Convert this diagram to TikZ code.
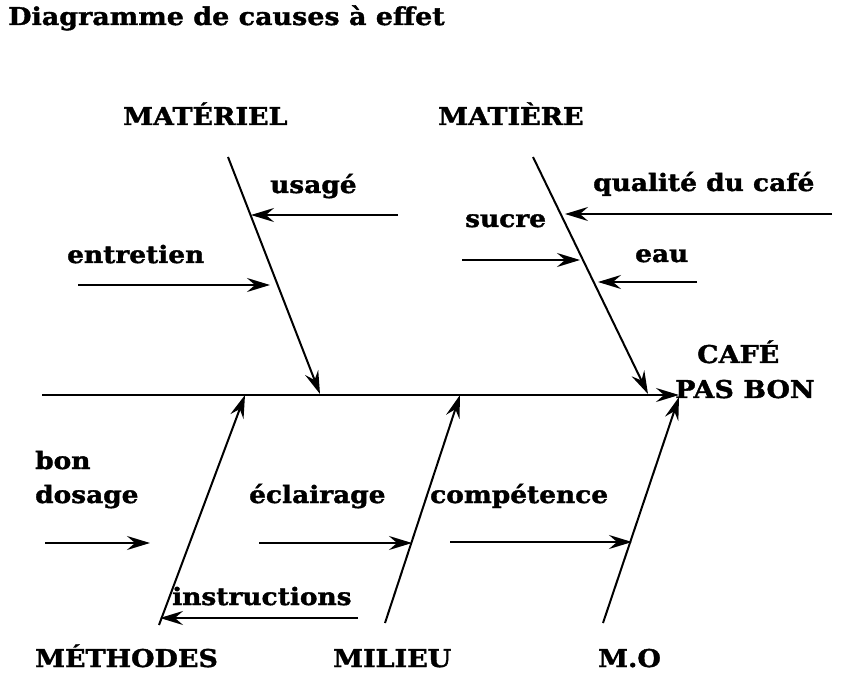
\documentclass[tikz,border=0pt]{standalone}
\usepackage{fontspec}
\setmainfont{DejaVu Serif}[FakeStretch=1.1, BoldFeatures={FakeBold=1.5}]
\usetikzlibrary{arrows.meta}
\tikzset{
  lbl/.style={anchor=base west, inner sep=0pt, font=\bfseries\fontsize{24}{28}\selectfont},
  head/.style={anchor=base west, inner sep=0pt, font=\bfseries\fontsize{24.5}{28}\selectfont},
  bone/.style={line width=2pt, -{Stealth[length=23pt,width=14pt,inset=8pt]}},
  twig/.style={line width=2pt, -{Stealth[length=23pt,width=14pt,inset=8pt]}},
}
\begin{document}
\begin{tikzpicture}[x=1pt,y=-1pt]
\useasboundingbox[fill=white] (0,0) rectangle (846,692);
% title
\node[anchor=base west, inner sep=0pt, font=\bfseries\fontsize{24.5}{28}\selectfont] (title) at (8,25) {Diagramme de causes à effet};
% heads
\node[head] (materiel) at (123,125) {MATÉRIEL};
\node[head] (matiere) at (438,125) {MATIÈRE};
\node[head] (methodes) at (35,667) {MÉTHODES};
\node[head] (milieu) at (333,667) {MILIEU};
\node[head] (mo) at (598,667) {M.O};
\node[head] (cafe) at (697,363) {CAFÉ};
\node[head] (pasbon) at (675,398) {PAS BON};
% cause labels
\node[lbl] (usage) at (270,193) {usagé};
\node[lbl] (entretien) at (67,263) {entretien};
\node[lbl] (qualite) at (593,191) {qualité du café};
\node[lbl] (sucre) at (465,227) {sucre};
\node[lbl] (eau) at (635,262) {eau};
\node[lbl] (bon) at (35,469) {bon};
\node[lbl] (dosage) at (35,503) {dosage};
\node[lbl] (eclairage) at (249,503) {éclairage};
\node[lbl] (competence) at (430,503) {compétence};
\node[lbl] (instructions) at (172,605) {instructions};
% coordinates
\coordinate (spS) at (42,395);
\coordinate (spE) at (679,395);
\coordinate (b1s) at (228,157); \coordinate (b1e) at (320,394);
\coordinate (b2s) at (533,157); \coordinate (b2e) at (648,394);
\coordinate (b3s) at (159,625); \coordinate (b3e) at (245,395);
\coordinate (b4s) at (385,623); \coordinate (b4e) at (460,395);
\coordinate (b5s) at (603,623); \coordinate (b5e) at (679,397);
\coordinate (t1s) at (398,215); \coordinate (t1e) at (251,215);
\coordinate (t2s) at (78,285);  \coordinate (t2e) at (270,285);
\coordinate (t3s) at (832,214); \coordinate (t3e) at (565,214);
\coordinate (t4s) at (462,260); \coordinate (t4e) at (580,260);
\coordinate (t5s) at (697,282); \coordinate (t5e) at (598,282);
\coordinate (t6s) at (45,543);  \coordinate (t6e) at (150,543);
\coordinate (t7s) at (259,543); \coordinate (t7e) at (412,543);
\coordinate (t8s) at (450,542); \coordinate (t8e) at (632,542);
\coordinate (t9s) at (358,618); \coordinate (t9e) at (160,618);
% spine and bones
\draw[bone] (spS) -- (spE);
\draw[bone] (b1s) -- (b1e);
\draw[bone] (b2s) -- (b2e);
\draw[bone] (b3s) -- (b3e);
\draw[bone] (b4s) -- (b4e);
\draw[bone] (b5s) -- (b5e);
% twigs
\draw[twig] (t1s) -- (t1e);
\draw[twig] (t2s) -- (t2e);
\draw[twig] (t3s) -- (t3e);
\draw[twig] (t4s) -- (t4e);
\draw[twig] (t5s) -- (t5e);
\draw[twig] (t6s) -- (t6e);
\draw[twig] (t7s) -- (t7e);
\draw[twig] (t8s) -- (t8e);
\draw[twig] (t9s) -- (t9e);
\end{tikzpicture}
\end{document}
